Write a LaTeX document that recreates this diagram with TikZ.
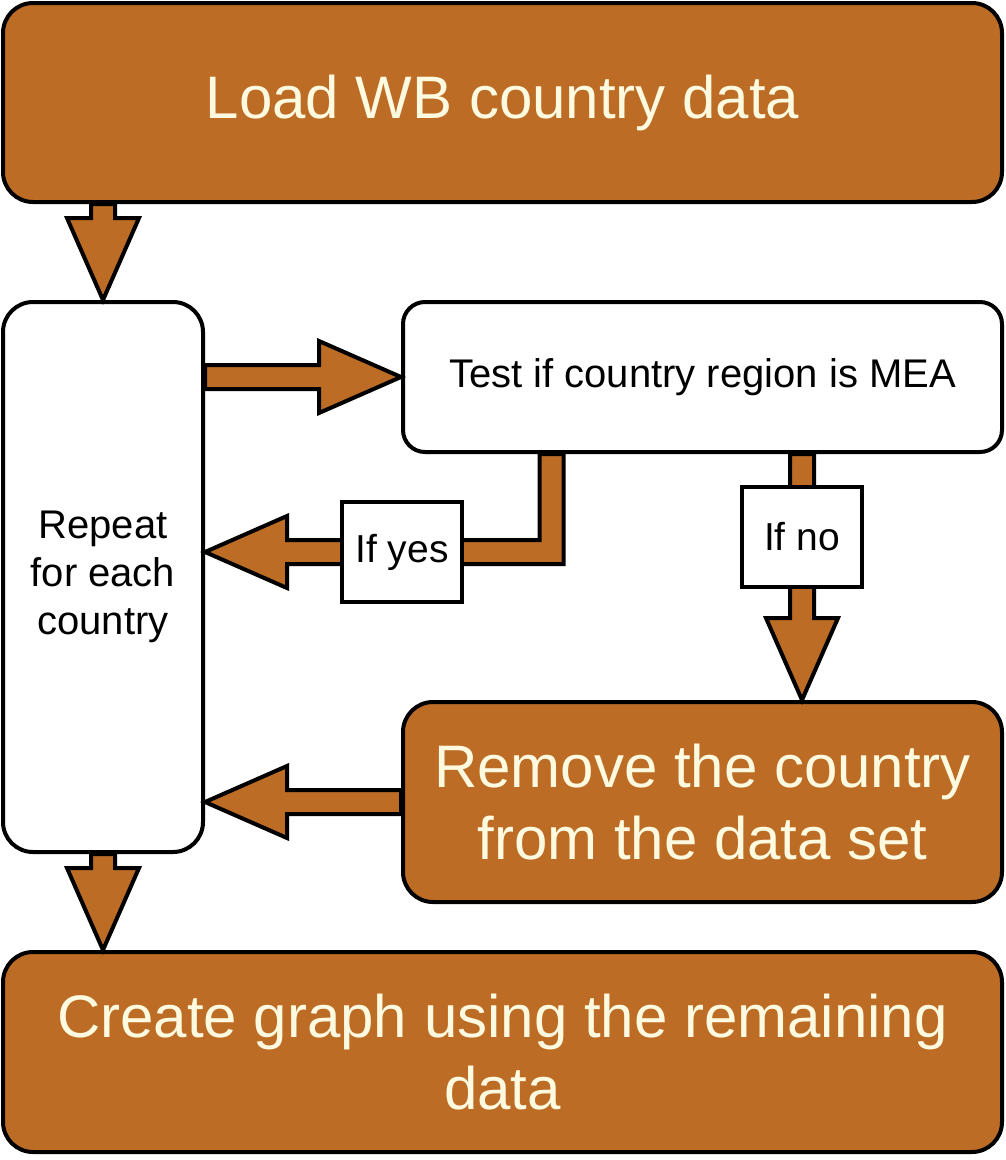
\documentclass[tikz,border=0pt]{standalone}
\usepackage{fontspec}
\setmainfont{Liberation Sans}
\usetikzlibrary{calc}

\definecolor{rust}{HTML}{BC6C25}
\definecolor{cream}{HTML}{FEFAE0}

\tikzset{
	box/.style={draw, line width=4pt, rounded corners=30pt, align=center, inner sep=0pt},
	darkbox/.style={box, fill=rust, text=cream, font=\fontsize{60}{72}\selectfont},
	lightbox/.style={box, fill=white, text=black, font=\fontsize{40}{48}\selectfont},
	tag/.style={draw, line width=4pt, fill=white, inner sep=0pt, minimum width=120pt, minimum height=100pt, font=\fontsize{39}{47}\selectfont},
	blockarrow/.style={draw=black, fill=rust, line width=4pt}
}

% block arrows: shaft from #1, tip at #2
\newcommand\downblock[2]{\filldraw[blockarrow] ($(#1)+(-12,0)$) -- ($(#2)+(-12,82)$) -- ($(#2)+(-36,82)$) -- (#2) -- ($(#2)+(36,82)$) -- ($(#2)+(12,82)$) -- ($(#1)+(12,0)$) -- cycle;}
\newcommand\rightblock[2]{\filldraw[blockarrow] ($(#1)+(0,12)$) -- ($(#2)+(-82,12)$) -- ($(#2)+(-82,36)$) -- (#2) -- ($(#2)+(-82,-36)$) -- ($(#2)+(-82,-12)$) -- ($(#1)+(0,-12)$) -- cycle;}
\newcommand\leftblock[2]{\filldraw[blockarrow] ($(#1)+(0,12)$) -- ($(#2)+(82,12)$) -- ($(#2)+(82,36)$) -- (#2) -- ($(#2)+(82,-36)$) -- ($(#2)+(82,-12)$) -- ($(#1)+(0,-12)$) -- cycle;}

\begin{document}
\begin{tikzpicture}[x=1pt, y=1pt]

\path [use as bounding box] (0,0) rectangle (1005,-1160);

% BOXES
\node [darkbox, minimum width=999pt, minimum height=199pt] (load) at (502.5,-102.5) {Load WB country data};
\node [lightbox, minimum width=200pt, minimum height=550pt] (repeat) at (103,-577) {Repeat\\for each\\country};
\node [lightbox, rounded corners=22pt, minimum width=599pt, minimum height=150pt] (test) at (702.5,-377) {Test if country region is MEA};
\node [darkbox, minimum width=599pt, minimum height=200pt] (remove) at (702.5,-802) {Remove the country\\from the data set};
\node [darkbox, minimum width=999pt, minimum height=200pt] (graph) at (502.5,-1052) {Create graph using the remaining\\data};

% HELPER POINTS
\coordinate (loadout) at (load.south -| repeat.north);
\coordinate (testin) at (repeat.east |- test.west);
\coordinate (yesdrop) at ($(test.south)+(-151,0)$);
\coordinate (yesbend) at (yesdrop |- 0,-552);
\coordinate (yestip) at (repeat.east |- yesbend);
\coordinate (nodrop) at ($(test.south)+(99.5,0)$);
\coordinate (notip) at (nodrop |- remove.north);
\coordinate (remtip) at (remove.west -| repeat.east);
\coordinate (graphin) at (graph.north -| repeat.south);

% ARROWS
\downblock{loadout}{repeat.north}
\rightblock{testin}{test.west}
\filldraw [blockarrow] ($(yesdrop)+(-12,0)$) -- ($(yesbend)+(-12,12)$) -- ($(yestip)+(82,12)$) -- ($(yestip)+(82,36)$) -- (yestip) --
	($(yestip)+(82,-36)$) -- ($(yestip)+(82,-12)$) -- ($(yesbend)+(12,-12)$) -- ($(yesdrop)+(12,0)$) -- cycle;
\downblock{nodrop}{notip}
\leftblock{remove.west}{remtip}
\downblock{repeat.south}{graphin}

% LABELS
\node [tag] (yes) at (402,-552) {If yes};
\node [tag] (no) at (802,-537) {If no};

\end{tikzpicture}
\end{document}
